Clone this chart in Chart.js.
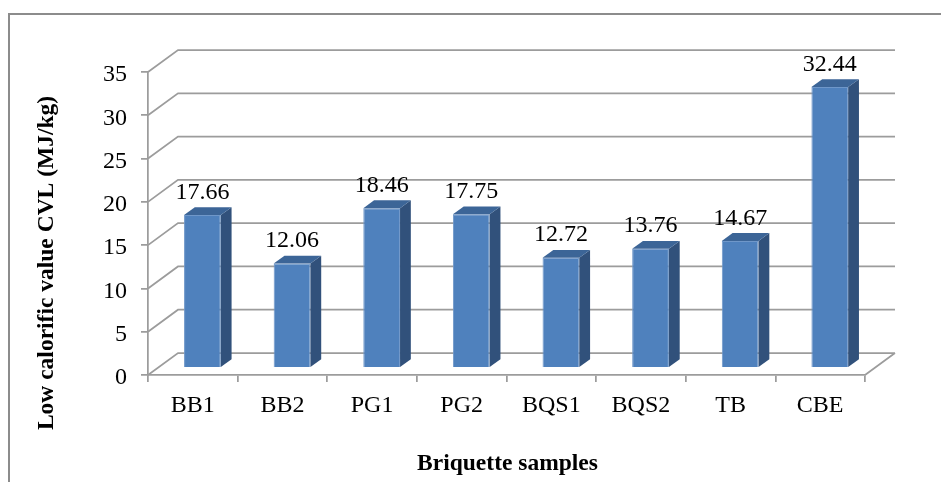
<!DOCTYPE html>
<html>
<head>
<meta charset="utf-8">
<script src="https://cdn.jsdelivr.net/npm/chart.js@4.4.1/dist/chart.umd.min.js"></script>
<style>
  html, body { margin: 0; padding: 0; background: #fff; overflow: hidden; }
  canvas { display: block; }
</style>
</head>
<body>
<canvas id="chart" width="941" height="482"></canvas>
<script>
// Data
const categories = ['BB1', 'BB2', 'PG1', 'PG2', 'BQS1', 'BQS2', 'TB', 'CBE'];
const calorificValues = [17.66, 12.06, 18.46, 17.75, 12.72, 13.76, 14.67, 32.44];
const yTicks = [0, 5, 10, 15, 20, 25, 30, 35];
const yAxisTitle = 'Low calorific value CVL (MJ/kg)';
const xAxisTitle = 'Briquette samples';

// Pseudo-3D look: depth of the walls and where the columns sit inside it
const DEPTH_X = 30, DEPTH_Y = 22;
const BAR_FRONT = 0.32, BAR_BACK = 0.68;
const GRID = '#9c9c9c';
const GRID_W = 1.75;
const FACE = '#4f81bd', SIDE = '#31517b', TOP = '#3c6597';
const SERIF = '"Liberation Serif", "Times New Roman", serif';
const FONT_SIZE = 24;

const walls3d = {
  id: 'walls3d',
  beforeDraw(chart) {
    const ctx = chart.ctx;
    ctx.save();
    ctx.strokeStyle = '#8c8c8c';
    ctx.lineWidth = 2;
    ctx.beginPath();
    ctx.moveTo(9, chart.height);
    ctx.lineTo(9, 14);
    ctx.lineTo(chart.width, 14);
    ctx.stroke();
    ctx.restore();
  },
  beforeDatasetsDraw(chart) {
    const { ctx, chartArea: a, scales: { y } } = chart;
    ctx.save();
    ctx.strokeStyle = GRID;
    ctx.lineWidth = GRID_W;
    ctx.beginPath();
    yTicks.forEach(v => {
      const py = y.getPixelForValue(v);
      ctx.moveTo(a.left, py);
      ctx.lineTo(a.left + DEPTH_X, py - DEPTH_Y);
      ctx.lineTo(a.right + DEPTH_X, py - DEPTH_Y);
    });
    // floor: right edge back to the front
    ctx.moveTo(a.right + DEPTH_X, y.getPixelForValue(0) - DEPTH_Y);
    ctx.lineTo(a.right, y.getPixelForValue(0));
    ctx.stroke();
    ctx.restore();
  },
  beforeDatasetDraw(chart) {
    const ctx = chart.ctx;
    ctx.save();
    ctx.translate(DEPTH_X * BAR_FRONT, -DEPTH_Y * BAR_FRONT);
  },
  afterDatasetDraw(chart, args) {
    const ctx = chart.ctx;
    ctx.restore();
    const fx = DEPTH_X * BAR_FRONT, fy = DEPTH_Y * BAR_FRONT;
    const bx = DEPTH_X * (BAR_BACK - BAR_FRONT), by = DEPTH_Y * (BAR_BACK - BAR_FRONT);
    const data = chart.data.datasets[args.index].data;
    ctx.save();
    args.meta.data.forEach((bar, i) => {
      const { x, y, base, width } = bar.getProps(['x', 'y', 'base', 'width'], true);
      const l = x - width / 2 + fx, r = x + width / 2 + fx;
      const t = y - fy, b = base - fy;
      ctx.fillStyle = SIDE;
      ctx.beginPath();
      ctx.moveTo(r, t);
      ctx.lineTo(r + bx, t - by);
      ctx.lineTo(r + bx, b - by);
      ctx.lineTo(r, b);
      ctx.closePath();
      ctx.fill();
      ctx.fillStyle = TOP;
      ctx.beginPath();
      ctx.moveTo(l, t);
      ctx.lineTo(r, t);
      ctx.lineTo(r + bx, t - by);
      ctx.lineTo(l + bx, t - by);
      ctx.closePath();
      ctx.fill();
      ctx.fillStyle = '#000';
      ctx.font = FONT_SIZE + 'px ' + SERIF;
      ctx.textAlign = 'center';
      ctx.textBaseline = 'alphabetic';
      ctx.fillText(data[i].toFixed(2), x + fx, t - by - 8.5);
    });
    ctx.restore();
  },
  afterDraw(chart) {
    const ctx = chart.ctx;
    ctx.save();
    ctx.fillStyle = '#000';
    ctx.font = 'bold 23.5px ' + SERIF;
    ctx.textAlign = 'center';
    ctx.textBaseline = 'middle';
    const a = chart.chartArea;
    ctx.fillText(xAxisTitle, (a.left + a.right) / 2 + 1, 464);
    ctx.translate(47, 263);
    ctx.rotate(-Math.PI / 2);
    ctx.fillText(yAxisTitle, 0, 0);
    ctx.restore();
  }
};

new Chart(document.getElementById('chart'), {
  type: 'bar',
  data: {
    labels: categories,
    datasets: [{
      data: calorificValues,
      backgroundColor: FACE,
      borderColor: '#6f97c9',
      borderWidth: 1,
      categoryPercentage: 1,
      barPercentage: 0.41
    }]
  },
  options: {
    responsive: false,
    animation: false,
    events: [],
    layout: { padding: { left: 0, right: 76, top: 72, bottom: 0 } },
    plugins: { legend: { display: false }, tooltip: { enabled: false } },
    scales: {
      x: {
        afterFit(s) { s.height = 107; },
        grid: { drawOnChartArea: false, drawTicks: true, tickLength: 7, color: GRID, lineWidth: GRID_W, offset: true },
        border: { display: true, color: GRID, width: GRID_W },
        ticks: { color: '#000', padding: 9, font: { family: SERIF, size: FONT_SIZE } }
      },
      y: {
        min: 0,
        max: 35,
        afterFit(s) { s.width = 148; },
        afterBuildTicks(s) { s.ticks = yTicks.map(v => ({ value: v })); },
        grid: { drawOnChartArea: false, drawTicks: true, tickLength: 7, color: GRID, lineWidth: GRID_W },
        border: { display: true, color: GRID, width: GRID_W },
        ticks: { color: '#000', padding: 14, labelOffset: 3, font: { family: SERIF, size: FONT_SIZE } }
      }
    }
  },
  plugins: [walls3d]
});
</script>
</body>
</html>
